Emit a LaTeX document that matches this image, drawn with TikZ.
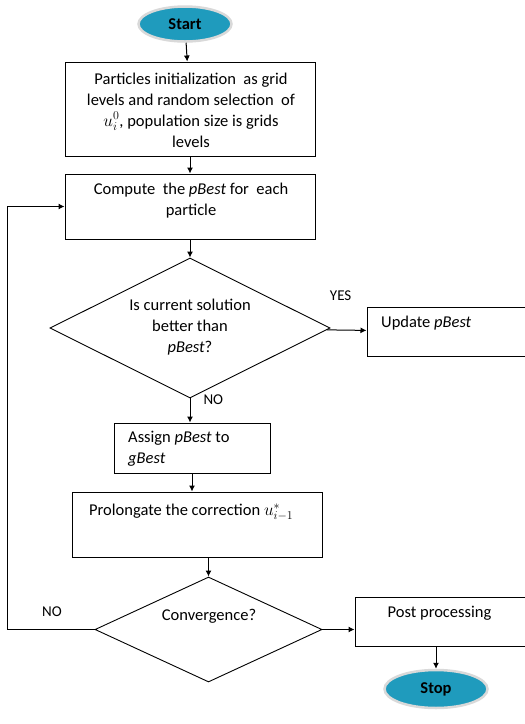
\documentclass[tikz,border=0pt]{standalone}
\usepackage{fontspec}
\setmainfont{Carlito}
\usepackage{xcolor}
\usepackage{tikz}
\usetikzlibrary{arrows.meta,positioning,shapes.geometric}
\definecolor{termfill}{HTML}{1F9BBD}

\begin{document}
\begin{tikzpicture}[x=1pt, y=-1pt,
  term/.style={ellipse, draw=black!15, line width=2.5pt, fill=termfill, inner sep=0pt,
    font=\fontsize{16.5}{18}\selectfont\bfseries},
  box/.style={draw, line width=1pt, inner sep=0pt},
  dec/.style={diamond, draw, line width=0.9pt, inner sep=0pt},
  txt/.style={font=\fontsize{16.5}{21}\selectfont, inner sep=0pt, align=center},
  lab/.style={font=\fontsize{15}{16}\selectfont, inner sep=0pt},
  arr/.style={-{Latex[length=6pt,width=6pt]}, line width=1pt}
]
\useasboundingbox (0,0) rectangle (525,724);

% terminals
\node[term, minimum width=93pt, minimum height=35pt] (start) at (185,24) {Start};
\node[term, minimum width=103pt, minimum height=38pt] (stop) at (436,689) {Stop};

% process boxes
\node[box, minimum width=250pt, minimum height=94pt] (init) at (190,109) {};
\node[txt] at (191,110) {Particles initialization \ as grid\\ levels and random selection \ of\\ $u_i^0$, population size is grids\\ levels};
\node[box, minimum width=250pt, minimum height=65pt] (pbest) at (190,206.5) {};
\node[txt] at (191,200.5) {Compute \ the \emph{pBest} for \ each\\ particle};
\node[box, minimum width=161pt, minimum height=49pt] (upd) at (447.5,331.5) {};
\node[txt, anchor=west] at (381,323) {Update \emph{pBest}};
\node[box, minimum width=156pt, minimum height=50pt] (assign) at (192,448) {};
\node[txt, align=left, anchor=west] at (128,448.5) {Assign \emph{pBest} to\\ \emph{gBest}};
\node[box, minimum width=250pt, minimum height=65pt] (prol) at (197,524.5) {};
\node[txt, anchor=west] at (89,512) {Prolongate the correction $u_{i-1}^{*}$};
\node[box, minimum width=170pt, minimum height=49pt] (post) at (440,621.5) {};
\node[txt] at (439.5,613) {Post processing};

% decisions
\node[dec, minimum width=280pt, minimum height=140pt] (better) at (190,328) {};
\node[txt] at (190,327) {Is current solution\\ better than\\ \emph{pBest}?};
\node[dec, minimum width=227pt, minimum height=105pt] (conv) at (208.5,629.5) {};
\node[txt] at (209,616) {Convergence?};

% connectors
\coordinate (back) at (7,629.5);
\draw[arr] (start) -- (init);
\draw[arr] (init) -- (pbest);
\draw[arr] (pbest.south -| better.north) -- (better);
\draw[arr] (better) -- node[lab, above=29pt, pos=0.35] {YES} (upd);
\draw[arr] (better) -- node[lab, right=13pt, pos=0.04] {NO} (assign.north -| better.south);
\draw[arr] (assign.south) -- (prol.north -| assign.south);
\draw[arr] (prol.south -| conv.north) -- (conv);
\draw[arr] (conv) -- (conv.east -| post.west);
\draw[arr] (post.south -| stop.north) -- (stop);
\draw[arr] (conv.west) -- (back) |- (pbest.west);
\node[lab] at (52,612) {NO};
\end{tikzpicture}
\end{document}
